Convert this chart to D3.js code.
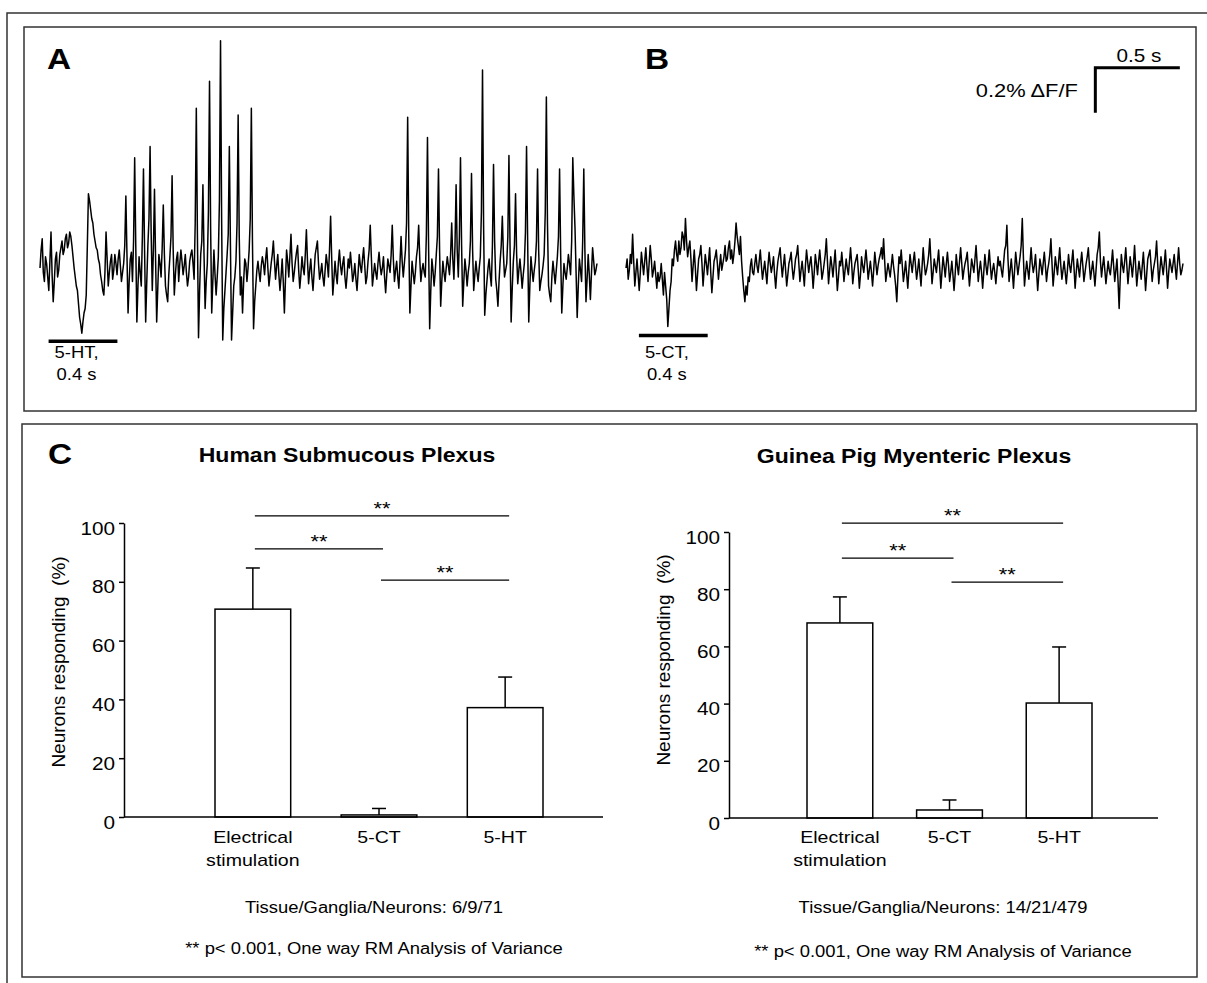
<!DOCTYPE html>
<html><head><meta charset="utf-8">
<script src="https://cdn.jsdelivr.net/npm/d3@7"></script>
<style>
body{margin:0;background:#fff}
svg{display:block}
text{font-family:"Liberation Sans",Arial,Helvetica,sans-serif;fill:#000}
</style>
</head><body>
<svg id="chart" width="1207" height="983"></svg>
<script>
// ---------------- DATA ----------------
// Calcium-imaging traces, ΔF/F in units of 0.01 %, one sample every sampleInterval seconds
const sampleInterval = 0.0064; // s
const traceA = [
 0, 8, 13, -2, -6, 5, 2, -4, -10, 3, 16, -3, -15, -6, 4, 7, -4, -1, 6, 9,
 12, 6, 8, 13, 15, 9, 11, 16, 14, 10, 5, 0, -4, -8, -10, -16, -22, -25, -29, -24,
 -20, -18, -12, 10, 33, 30, 26, 22, 20, 15, 12, 9, 8, 4, 2, -3, -6, -10, -12, -2,
 16, 4, -8, -2, 3, 6, -5, -1, 6, 2, -3, 4, 8, 1, -6, -2, 2, 10, 32, 6,
 -20, -6, 4, 7, -6, 12, 49, 10, -24, -8, 5, -2, -8, 14, 44, 8, -24, -6, 10, 22,
 54, 15, -10, 8, 35, 4, -24, -9, 6, 2, -4, 9, 28, 6, -8, -12, -15, -3, 5, 14,
 41, 8, -12, -3, 4, 7, -6, 2, 8, 3, -3, 1, 6, -2, -8, -4, 3, 6, 8, 2,
 -5, 20, 71, 15, -31, -10, 6, 12, 37, 6, -18, -6, 2, 25, 83, 18, -20, -6, 8, -3,
 -12, -4, 5, 30, 101, 22, -32, -18, -10, -2, 6, 15, 54, 10, -32, -20, -8, -4, 3, 20,
 68, 14, -12, -4, -20, -6, 4, 2, -6, 0, 8, 22, 71, 12, -27, -15, -8, -1, 3, -2,
 -6, 1, 5, 2, -3, 4, 9, 0, -8, -3, 2, 6, 12, 3, -5, 1, 6, -3, -10, -4,
 4, -6, -20, -5, 8, 3, -4, 5, 15, 2, -6, -2, 3, 7, 10, -1, -9, -3, 5, 0,
 -3, 6, 17, 3, -7, -1, 4, -4, -10, -2, 6, 9, 12, 2, -5, -2, 2, -4, -8, -1,
 6, 2, -4, 8, 23, 4, -12, -5, 3, -3, -7, 2, 8, 1, -3, 2, 5, -4, -9, -3,
 4, 0, 7, 1, -6, -3, 2, -5, -10, -2, 6, 1, -2, 4, 9, 1, -7, -4, 3, 8,
 19, 5, -8, -3, 2, -2, -5, 2, 7, 1, -3, 0, 5, -4, -11, -3, 4, 1, -2, 6,
 19, 4, -6, -1, 3, -4, -9, 2, 14, 3, -4, 2, 8, 20, 67, 14, -20, -8, 3, -2,
 -7, -2, 5, 9, 19, 4, -6, -1, 2, -2, -4, 15, 58, 10, -27, -10, 4, -1, -8, -2,
 6, 14, 44, 8, -17, -6, 3, -2, -6, 0, 5, 1, -3, 6, 20, 4, -5, 10, 37, 8,
 -4, 14, 49, 10, -17, -6, 4, -1, -8, -2, 2, 12, 42, 8, -10, -3, 3, -2, -6, 0,
 5, 25, 88, 18, -21, -12, -6, 0, 4, -3, -8, 10, 46, 12, -5, -10, -17, -6, 3, 10,
 23, 6, -4, -1, 2, 14, 50, 10, -24, -9, 3, 10, 33, 6, -7, -1, 4, -2, -9, -3,
 2, 16, 54, 12, -24, -8, 5, -1, -6, -1, 3, 12, 44, 8, -10, -6, -3, 1, 6, 25,
 76, 20, -8, -12, -15, -4, 3, -2, -7, -1, 5, 14, 44, 6, -20, -8, 2, -2, -5, 0,
 6, 2, -3, 12, 49, 32, 18, -2, -22, -8, 4, -1, -6, 12, 44, 8, -15, -5, 6, -3,
 -14, -2, 9, 3, -3, -1, 2
];
const traceB = [
 0, 4, -5, -1, 6, 2, 15, 3, -8, -2, 4, -3, -10, -2, 7, 2, -3, 3, 9, 1,
 -6, 2, 10, 4, -4, -1, 3, -3, -9, -2, -6, -4, 2, -5, -12, -2, -8, -14, -26, -18,
 -10, -6, 4, 1, 8, 12, 6, 3, 12, 6, 9, 16, 14, 8, 22, 12, 5, 9, 12, 4,
 -6, 1, 8, 0, -10, -3, 4, 6, 10, 2, -8, -1, 6, 2, -3, 3, 9, -2, -11, -4,
 3, 5, 8, 2, -5, 1, 6, -1, 2, 5, 10, 3, 4, 9, 12, 4, 8, 2, 6, 12,
 20, 14, 10, 6, 14, 3, -4, -10, -15, -8, -12, -4, -6, 1, 4, -2, -3, 2, 6, 1,
 -2, 3, 8, 1, -5, -1, 3, -2, -7, 1, 7, 2, -2, 1, 5, -3, -9, -2, 3, 6,
 9, 2, -4, 1, 6, -1, -8, -3, 2, 4, 7, 0, -5, -1, 4, 6, 10, 2, -6, -1,
 3, -2, -8, 1, 8, 3, -2, 2, 5, -1, -9, -2, 6, 2, -3, 3, 8, 2, -5, -2,
 2, 6, 13, 3, -7, -1, 5, 1, -4, 2, 8, -1, -10, -4, 3, 1, 7, 1, -6, -1,
 4, 0, -3, 3, 9, 2, -7, -2, 2, 4, 6, -1, -9, -3, 5, 1, -2, 3, 8, 2,
 -5, -1, 3, -2, -8, -1, 7, 2, -3, 1, 4, 6, 9, 4, 13, 3, -6, -2, 2, -1,
 -4, 1, 6, 1, -3, -8, -15, -4, 5, 2, 8, 1, -6, -2, 3, -3, -9, -1, 6, 2,
 -2, 3, 7, 1, -5, -1, 4, -2, -8, 1, 9, 2, -3, -1, 2, 6, 13, 3, -7, -2,
 4, 1, -2, 3, 8, 0, -9, -2, 5, 1, -4, 2, 7, 1, -6, -2, 3, -3, -10, -3,
 6, 1, -3, 3, 9, 2, -5, -1, 2, 4, 7, -1, -8, -2, 4, 1, -2, 4, 10, 2,
 -6, -1, 3, -2, -9, -2, 6, 1, -3, 2, 8, 1, -5, -1, 2, -2, -7, -1, 5, 1,
 3, -1, -4, 2, 8, 10, 19, 4, -6, -1, 4, -2, -9, -1, 7, 2, -3, 1, 5, 10,
 22, 5, -8, -2, 3, -1, -5, 2, 9, 2, -2, 1, 6, -2, -10, -3, 4, 1, -3, 2,
 7, 1, -6, -1, 2, 6, 13, 2, -8, -2, 5, 1, -3, 3, 9, 1, -5, -1, 3, -2,
 -7, -1, 6, 1, -2, 3, 8, 0, -9, -2, 4, 0, -4, 2, 7, 1, -6, -2, 2, 5,
 9, 1, -5, -1, 3, -2, -8, -1, 6, 9, 16, 3, -4, 1, 5, -1, -7, -2, 3, -1,
 -3, 2, 8, 1, -6, -1, 4, -6, -18, -4, 6, 1, -2, 3, 9, 1, -7, -1, 5, 1,
 -4, 2, 10, 1, -8, -2, 3, -1, -5, 1, 7, -1, -10, -3, 4, 6, 8, 1, -6, -1,
 2, 5, 12, 2, -7, -1, 5, 1, -3, 2, 8, 0, -9, -2, 4, 1, -2, 2, 6, 0,
 -5, 2, 9, 2, -3, -1, 2
];
// drug application bars: start time (s), duration (s), level (% ΔF/F)
const stimA = {start: 0.05, duration: 0.4, level: -0.325, label: ["5-HT,", "0.4 s"]};
const stimB = {start: 0.075, duration: 0.4, level: -0.30, label: ["5-CT,", "0.4 s"]};
// calibration bar: 0.5 s by 0.2 % ΔF/F, corner at (time, level)
const scaleBarTime = 0.5, scaleBarDFF = 0.2, scaleBarCorner = [2.72, 0.89];
const scaleBarLabels = ["0.5 s", "0.2% ΔF/F"];

// bar charts
const categories = ["Electrical stimulation", "5-CT", "5-HT"];
const categoryLabelLines = [["Electrical", "stimulation"], ["5-CT"], ["5-HT"]];
const yTicks = [0, 20, 40, 60, 80, 100];
const humanMeans = [70.7, 0.7, 37.2];
const humanSEM = [14.0, 2.2, 10.4];
const guineaMeans = [68.2, 2.8, 40.2];
const guineaSEM = [9.1, 3.5, 19.6];
// significance brackets: [category index a, category index b, level (%)]
const humanSig = [[0, 2, 102.4], [0, 1, 91.2], [1, 2, 80.6]];
const guineaSig = [[0, 2, 103.1], [0, 1, 90.9], [1, 2, 82.5]];
const titles = ["Human Submucous Plexus", "Guinea Pig Myenteric Plexus"];
const tissueNotes = ["Tissue/Ganglia/Neurons: 6/9/71", "Tissue/Ganglia/Neurons: 14/21/479"];
const statNote = "** p< 0.001, One way RM Analysis of Variance";
const yLabel = "Neurons responding  (%)";

// ---------------- DRAWING ----------------
const svg = d3.select("#chart");
const SX = 1.15; // horizontal stretch of the original figure's lettering
function stretch(sel) {
  sel.each(function () {
    const w = this.getComputedTextLength();
    this.setAttribute("textLength", w * SX);
    this.setAttribute("lengthAdjust", "spacingAndGlyphs");
  });
  return sel;
}
function txt(x, y, s, size, opts = {}) {
  const t = svg.append("text").attr("x", x).attr("y", y).text(s)
    .attr("font-size", size)
    .attr("font-weight", opts.bold ? "bold" : null)
    .attr("text-anchor", opts.anchor || "start");
  stretch(t);
  return t;
}

// frames
svg.append("rect").attr("x", 7).attr("y", 13).attr("width", 1215).attr("height", 990)
  .attr("fill", "none").attr("stroke", "#333").attr("stroke-width", 1.5);
svg.append("rect").attr("x", 24).attr("y", 27).attr("width", 1172).attr("height", 384)
  .attr("fill", "none").attr("stroke", "#333").attr("stroke-width", 1.5);
svg.append("rect").attr("x", 22).attr("y", 424).attr("width", 1175).attr("height", 553)
  .attr("fill", "none").attr("stroke", "#333").attr("stroke-width", 1.5);

// panel letters
txt(47, 69, "A", 29, {bold: true});
txt(645, 69, "B", 29, {bold: true});
txt(48, 464, "C", 29, {bold: true});

// traces
const traceDur = (traceA.length - 1) * sampleInterval;
const yTrace = d3.scaleLinear().domain([0, 0.2]).range([268, 223]); // 0.2 % = 45 px
function drawTrace(data, xRange, stim) {
  const x = d3.scaleLinear().domain([0, traceDur]).range(xRange);
  const line = d3.line().x((d, i) => x(i * sampleInterval)).y(d => yTrace(d / 100));
  svg.append("path").datum(data).attr("d", line)
    .attr("fill", "none").attr("stroke", "#000").attr("stroke-width", 1.5)
    .attr("stroke-linejoin", "round");
  svg.append("line")
    .attr("x1", x(stim.start)).attr("x2", x(stim.start + stim.duration))
    .attr("y1", yTrace(stim.level)).attr("y2", yTrace(stim.level))
    .attr("stroke", "#000").attr("stroke-width", 3.5);
  txt(x(stim.start) + 6, yTrace(0) + 90, stim.label[0], 16);
  txt(x(stim.start) + 8, yTrace(0) + 112, stim.label[1], 16);
  return x;
}
drawTrace(traceA, [40, 597], stimA);
const xB = drawTrace(traceB, [626, 1183], stimB);

// calibration bar
const cx0 = xB(scaleBarCorner[0]), cx1 = xB(scaleBarCorner[0] + scaleBarTime);
const cy0 = yTrace(scaleBarCorner[1]), cy1 = yTrace(scaleBarCorner[1] - scaleBarDFF);
svg.append("path").attr("d", `M${cx0 + 1.5},${cy1}V${cy0}H${cx1}`)
  .attr("fill", "none").attr("stroke", "#000").attr("stroke-width", 3);
txt((cx0 + cx1) / 2 + 2, cy0 - 6, scaleBarLabels[0], 18, {anchor: "middle"});
txt(cx0 - 16, (cy0 + cy1) / 2 + 7, scaleBarLabels[1], 19, {anchor: "end"});

// bar charts
function barChart(cfg, means, sems, sigs, title, note) {
  const y = d3.scaleLinear().domain([0, 100]).range([cfg.y0, cfg.y100]);
  const x = d3.scaleBand().domain(categories).range([cfg.bandStart, cfg.bandEnd])
    .paddingInner(0.4).paddingOuter(0);
  const g = svg.append("g");

  txt(cfg.titleX, cfg.titleY, title, 20, {bold: true, anchor: "middle"});

  const ax = g.append("g").attr("transform", `translate(${cfg.axisX},0)`)
    .call(d3.axisLeft(y).tickValues(yTicks).tickSize(5).tickSizeOuter(0).tickFormat(d3.format("d")));
  ax.attr("font-family", null).attr("font-size", null);
  ax.select(".domain").attr("stroke", "#000").attr("stroke-width", 1.5);
  ax.selectAll(".tick line").attr("stroke", "#000").attr("stroke-width", 1.5);
  const tl = ax.selectAll(".tick text").attr("x", -9).attr("dy", 11)
    .attr("font-size", 18).attr("fill", "#000");
  stretch(tl);

  svg.append("text")
    .attr("transform", `translate(${cfg.yLabelX},${cfg.yLabelY}) rotate(-90)`)
    .attr("text-anchor", "middle").attr("font-size", 19)
    .style("white-space", "pre").text(yLabel);

  g.selectAll("rect.bar").data(categories).join("rect").attr("class", "bar")
    .attr("x", d => x(d)).attr("width", x.bandwidth())
    .attr("y", (d, i) => y(means[i])).attr("height", (d, i) => y(0) - y(means[i]))
    .attr("fill", "#fff").attr("stroke", "#000").attr("stroke-width", 1.5);
  categories.forEach((c, i) => {
    const cx = x(c) + x.bandwidth() / 2;
    g.append("line").attr("x1", cx).attr("x2", cx).attr("y1", y(means[i])).attr("y2", y(means[i] + sems[i]))
      .attr("stroke", "#000").attr("stroke-width", 1.5);
    g.append("line").attr("x1", cx - 7).attr("x2", cx + 7).attr("y1", y(means[i] + sems[i])).attr("y2", y(means[i] + sems[i]))
      .attr("stroke", "#000").attr("stroke-width", 1.5);
    categoryLabelLines[i].forEach((s, k) => {
      txt(cx, cfg.catY + k * 23, s, 17, {anchor: "middle"});
    });
  });
  g.append("line").attr("x1", cfg.axisX).attr("x2", cfg.xEnd).attr("y1", y(0)).attr("y2", y(0))
    .attr("stroke", "#000").attr("stroke-width", 1.5);

  sigs.forEach(([a, b, lvl]) => {
    const xa = x(categories[a]) + x.bandwidth() / 2 + 2;
    const xb = x(categories[b]) + x.bandwidth() / 2 + 4;
    g.append("line").attr("x1", xa).attr("x2", xb).attr("y1", y(lvl)).attr("y2", y(lvl))
      .attr("stroke", "#000").attr("stroke-width", 1.3);
    txt((xa + xb) / 2, y(lvl) - 1, "**", 19, {anchor: "middle"});
  });

  txt(cfg.noteX, cfg.noteY, note, 16, {anchor: "middle"});
  txt(cfg.noteX, cfg.noteY2, statNote, 16, {anchor: "middle"});
}

barChart({axisX: 124, y0: 817, y100: 523, xEnd: 603, bandStart: 215, bandEnd: 543,
  titleX: 347, titleY: 462, yLabelX: 65, yLabelY: 662, catY: 843,
  noteX: 374, noteY: 913, noteY2: 954},
  humanMeans, humanSEM, humanSig, titles[0], tissueNotes[0]);
barChart({axisX: 729, y0: 818, y100: 532, xEnd: 1158, bandStart: 807, bandEnd: 1092,
  titleX: 914, titleY: 463, yLabelX: 670, yLabelY: 660, catY: 843,
  noteX: 943, noteY: 913, noteY2: 957},
  guineaMeans, guineaSEM, guineaSig, titles[1], tissueNotes[1]);
</script>
</body></html>
